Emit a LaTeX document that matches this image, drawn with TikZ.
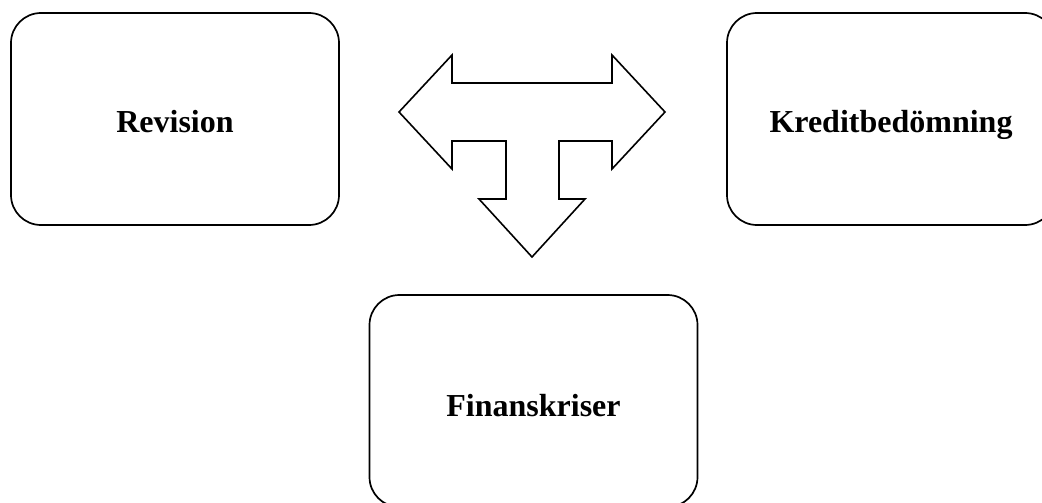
\documentclass[tikz,border=0pt]{standalone}
\usepackage{fontspec}
\setmainfont{Liberation Serif}
\begin{document}
\begin{tikzpicture}[x=1pt,y=-1pt,
  box/.style={draw=black,line width=1.7pt,rounded corners=30pt,minimum width=328pt,minimum height=212pt,inner sep=0pt,text height=27pt,text depth=0pt,font=\fontsize{32}{38}\selectfont\bfseries,text=black},
  tarrow/.style={draw=black,line width=1.6pt,line join=miter}]
\path[use as bounding box] (0,0) rectangle (1042,503);
\clip (0,0) rectangle (1042,503);
\node[box] (rev) at (175,119) {Revision};
\node[box] (kred) at (891,119) {Kreditbedömning};
\node[box,text height=31pt] (fin) at (533.5,401) {Finanskriser};
\draw[tarrow] (399,112) -- (452,55) -- (452,83) -- (612,83) -- (612,55) -- (665,112)
  -- (612,169) -- (612,141) -- (559,141) -- (559,199) -- (585,199) -- (532,257)
  -- (479,199) -- (506,199) -- (506,141) -- (452,141) -- (452,169) -- cycle;
\end{tikzpicture}
\end{document}
